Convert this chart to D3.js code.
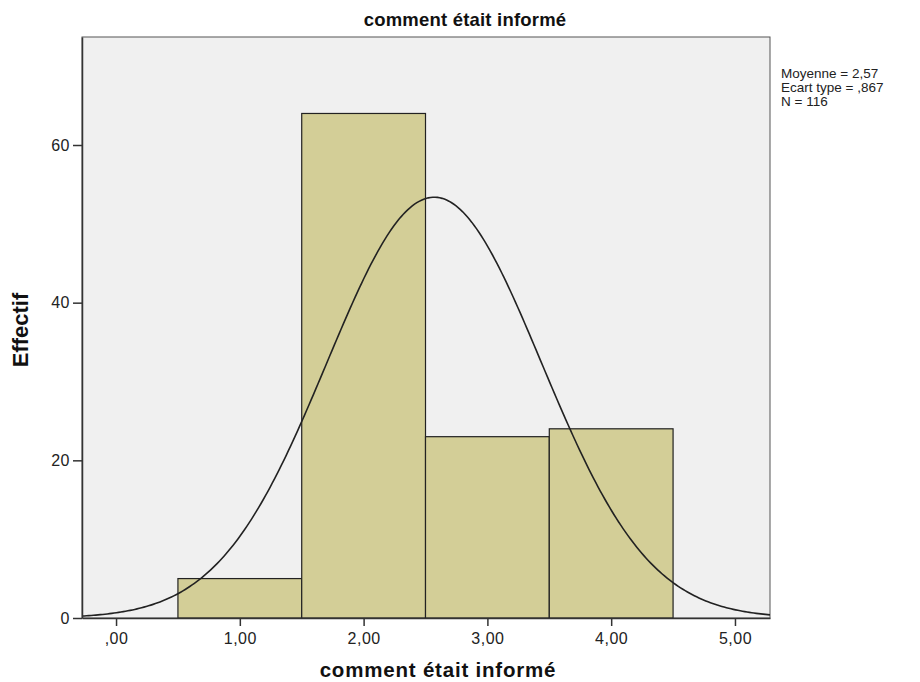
<!DOCTYPE html>
<html><head><meta charset="utf-8">
<script src="https://cdn.jsdelivr.net/npm/d3@7/dist/d3.min.js"></script>
<style>body{margin:0;background:#fff}svg{display:block;font-family:"Liberation Sans",Arial,sans-serif}</style>
</head><body><svg id="c" width="920" height="682"></svg>
<script>
const binStart = [0.5, 1.5, 2.5, 3.5];
const binEnd = [1.5, 2.5, 3.5, 4.5];
const counts = [5, 64, 23, 24];
const xTicks = [0, 1, 2, 3, 4, 5];
const xTickLabels = [",00", "1,00", "2,00", "3,00", "4,00", "5,00"];
const yTicks = [0, 20, 40, 60];
const stats = { mean: 2.57, sd: 0.867, n: 116 };
const statLabels = ["Moyenne = 2,57", "Ecart type = ,867", "N = 116"];

const svg = d3.select("#c");
const L = 82, R = 770, T = 37, B = 618;
const x = d3.scaleLinear().domain([-0.275, 5.283]).range([L, R]);
const y = d3.scaleLinear().domain([0, 73.7]).range([B, T]);

svg.append("rect").attr("x", L).attr("y", T).attr("width", R - L).attr("height", B - T)
  .attr("fill", "#f0f0f0").attr("stroke", "#555").attr("stroke-width", 1);

svg.append("g").selectAll("rect").data(counts).join("rect")
  .attr("x", (d, i) => x(binStart[i])).attr("width", (d, i) => x(binEnd[i]) - x(binStart[i]))
  .attr("y", d => y(d)).attr("height", d => y(0) - y(d))
  .attr("fill", "#d3ce97").attr("stroke", "#222").attr("stroke-width", 1.2);

// normal curve from the displayed mean, sd and N (bin width 1)
const dom = x.domain();
const pts = d3.range(0, 301).map(k => {
  const xv = dom[0] + (dom[1] - dom[0]) * k / 300;
  const z = (xv - stats.mean) / stats.sd;
  return [xv, stats.n * 1 / (stats.sd * Math.sqrt(2 * Math.PI)) * Math.exp(-0.5 * z * z)];
});
svg.append("path").datum(pts)
  .attr("d", d3.line().x(d => x(d[0])).y(d => y(d[1])))
  .attr("fill", "none").attr("stroke", "#222").attr("stroke-width", 1.6);

// axes
const xa = svg.append("g").attr("transform", `translate(0,${B})`)
  .call(d3.axisBottom(x).tickValues(xTicks).tickFormat((d, i) => xTickLabels[i]).tickSize(8).tickSizeOuter(0));
const ya = svg.append("g").attr("transform", `translate(${L},0)`)
  .call(d3.axisLeft(y).tickValues(yTicks).tickSize(9).tickPadding(3).tickSizeOuter(0));
[xa, ya].forEach(a => {
  a.select(".domain").attr("stroke", "#333").attr("stroke-width", 1.5);
  a.selectAll(".tick line").attr("stroke", "#333").attr("stroke-width", 1.5);
  a.selectAll("text").attr("font-size", 16).attr("fill", "#222")
    .attr("letter-spacing", "0.5px").attr("font-family", "Liberation Sans, Arial, sans-serif");
});
xa.selectAll("text").attr("dy", "0.95em");

svg.append("text").attr("x", 465).attr("y", 26).attr("text-anchor", "middle")
  .attr("font-size", 18.5).attr("font-weight", "bold").attr("letter-spacing", "0.2px").attr("fill", "#111").text("comment était informé");
svg.append("text").attr("x", 438).attr("y", 677).attr("text-anchor", "middle")
  .attr("font-size", 20.5).attr("font-weight", "bold").attr("letter-spacing", "0.8px").attr("fill", "#111").text("comment était informé");
svg.append("text").attr("transform", `translate(28,330) rotate(-90)`).attr("text-anchor", "middle")
  .attr("font-size", 22).attr("font-weight", "bold").attr("fill", "#111").text("Effectif");

svg.append("g").selectAll("text").data(statLabels).join("text")
  .attr("x", 781).attr("y", (d, i) => 78 + i * 14)
  .attr("font-size", 13.5).attr("fill", "#222").text(d => d);
</script></body></html>
